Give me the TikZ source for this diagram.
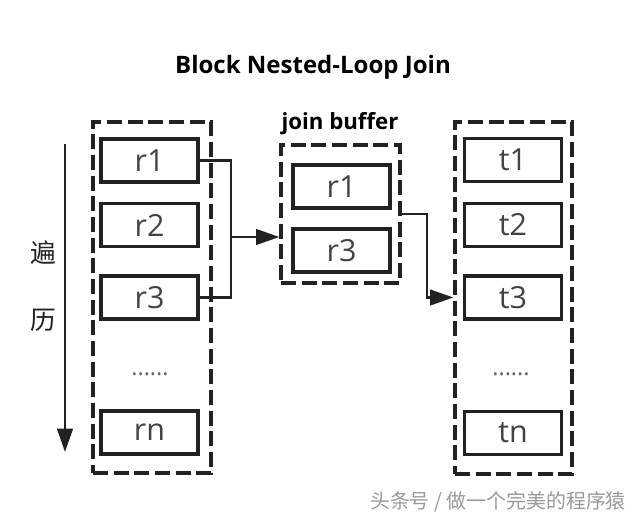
\documentclass[tikz,border=0pt]{standalone}
\usepackage{fontspec}
\setmainfont{Open Sans}
\newfontfamily\cjk{Noto Sans CJK SC}
\usepackage{tikz}
\usetikzlibrary{arrows.meta}
\usepackage{xcolor}
\definecolor{ink}{HTML}{222222}

\tikzset{
  item/.style={draw=ink, line width=2.6pt, minimum width=2.91cm, minimum height=1.29cm,
    inner sep=0pt, font=\fontsize{26}{30}\selectfont, text=ink!85},
  dashbox/.style={draw=ink, line width=2.8pt, dash pattern=on 0.45cm off 0.17cm, inner sep=0pt},
  link/.style={draw=ink, line width=2pt},
  arr/.style={link, -{Triangle[length=0.7cm,width=0.47cm]}},
  dots/.style={font=\fontsize{20}{24}\selectfont, text=ink!70},
}

\begin{document}
\begin{tikzpicture}[x=0.03cm,y=-0.03cm]
    \useasboundingbox (0,0) rectangle (640,525);

    % title
    \node (title) at (313,67) {\fontsize{20.5}{24}\selectfont\bfseries Block Nested-Loop Join};

    % outer table r
    \node[dashbox, minimum width=3.54cm, minimum height=10.53cm] (rbox) at (152,297.5) {};
    \node[item] (r1) at (149.5,160.5) {r1};
    \node[item] (r2) at (149.5,225) {r2};
    \node[item] (r3) at (149.5,297.5) {r3};
    \node[dots] (rdots) at (150,374) {......};
    \node[item] (rn) at (149.5,432.5) {rn};

    % scan direction
    \coordinate (scantop) at (65,144);
    \coordinate (scanbot) at (65,452);
    \draw[arr] (scantop) -- (scanbot);
    \node[font=\cjk\fontsize{22}{26}\selectfont, text=ink] (bian) at (43,253) {遍};
    \node[font=\cjk\fontsize{22}{26}\selectfont, text=ink] (li) at (43,320) {历};

    % join buffer
    \node (jlabel) at (340,124) {\fontsize{19}{23}\selectfont\bfseries join buffer};
    \node[dashbox, minimum width=3.57cm, minimum height=4.14cm] (jbuf) at (340.5,214) {};
    \node[item] (b1) at (341.5,186.5) {r1};
    \node[item] (b3) at (341.5,250.5) {r3};

    % inner table t
    \node[dashbox, minimum width=3.51cm, minimum height=10.56cm] (tbox) at (513.5,298) {};
    \node[item] (t1) at (513,160) {t1};
    \node[item] (t2) at (513,225) {t2};
    \node[item] (t3) at (513,297.5) {t3};
    \node[dots] (tdots) at (511,374) {......};
    \node[item] (tn) at (513,433) {tn};

    % connectors
    \coordinate (fork) at (231,237);
    \draw[link] (r1.east) -| (fork) |- (r3.east);
    \draw[arr] (fork) -- (fork -| jbuf.west);
    \coordinate (bend) at (427,214);
    \draw[arr] (jbuf.east) -- (bend) |- (t3 -| tbox.west);

    % watermark
    \node[font=\cjk\fontsize{17}{20}\selectfont, text=black!40] (mark) at (498,502) {头条号 / 做一个完美的程序猿};
\end{tikzpicture}
\end{document}
